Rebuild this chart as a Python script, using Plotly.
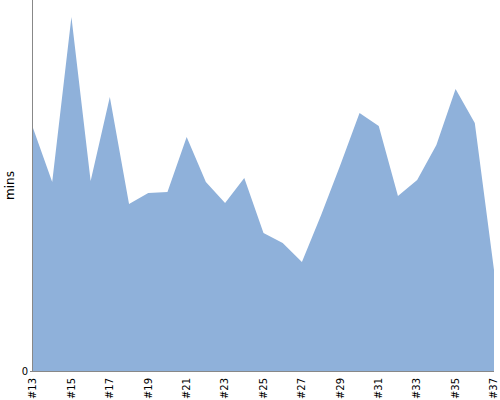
import plotly.graph_objects as go

categories = ["#%d" % i for i in range(13, 38)]
minutes = [24.3, 18.9, 35.4, 19.0, 27.4, 16.7, 17.8, 17.9, 23.4, 18.9, 16.8, 19.3, 13.8,
           12.8, 10.9, 15.6, 20.6, 25.8, 24.5, 17.5, 19.1, 22.6, 28.2, 24.8, 10.1]
tick_labels = categories[::2]
y_max = 37.1

fig = go.Figure()
fig.add_trace(go.Scatter(
    x=categories, y=minutes, mode="lines", fill="tozeroy",
    line=dict(width=0, color="rgb(143,177,218)"),
    fillcolor="rgb(143,177,218)", hoverinfo="x+y",
))
fig.update_layout(
    width=500, height=400,
    margin=dict(l=33, r=6, t=0, b=29, autoexpand=False),
    paper_bgcolor="white", plot_bgcolor="white",
    font=dict(family="DejaVu Sans", size=11, color="black"),
    showlegend=False,
)
fig.update_xaxes(
    type="category", tickvals=tick_labels, ticktext=tick_labels,
    tickangle=-90, range=[0, len(categories) - 1], automargin=False,
    showline=True, linecolor="#888", linewidth=1,
    showgrid=False, zeroline=False, ticks="outside", ticklen=2, tickcolor="rgba(0,0,0,0)",
    tickfont=dict(family="DejaVu Sans", size=10),
)
fig.update_yaxes(
    range=[0, y_max], tickvals=[0], ticktext=["0"], automargin=False,
    showline=True, linecolor="#888", linewidth=1,
    showgrid=False, zeroline=False, ticks="outside", ticklen=2, tickcolor="#888",
    title=dict(text="mins", standoff=4, font=dict(family="DejaVu Sans", size=12)),
    tickfont=dict(family="DejaVu Sans", size=10),
)
fig.write_html(
    "out.html",
    config={"displayModeBar": False},
    post_script="document.body.style.margin='0';document.body.style.overflow='hidden';",
)
